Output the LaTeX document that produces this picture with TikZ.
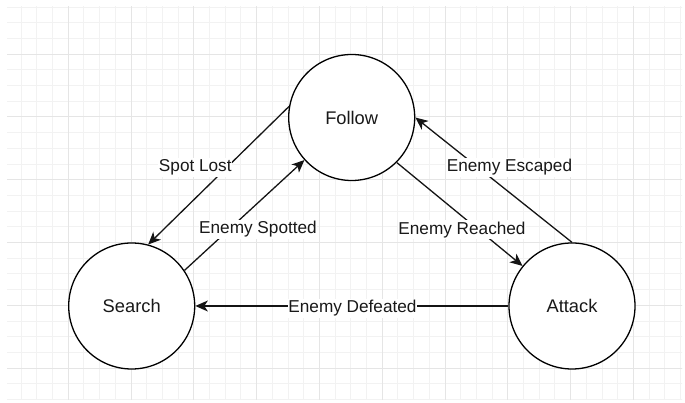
\documentclass[tikz,border=0pt]{standalone}
\usepackage{fontspec}
\setmainfont{Liberation Sans}
\usetikzlibrary{arrows.meta}
\begin{document}
\begin{tikzpicture}[x=1pt,y=1pt,
  state/.style={circle,draw=black,line width=1.3pt,fill=white,minimum size=126pt,
    inner sep=0pt,text=black!90,font=\fontsize{18.3}{22}\selectfont},
  trans/.style={line width=1.3pt,draw=black!92,
    -{Stealth[length=12.5pt,width=11pt,inset=3.5pt]}},
  tlabel/.style={fill=white,inner xsep=0.5pt,inner ysep=1.6pt,anchor=base,
    text=black!90,font=\fontsize{17.2}{20}\selectfont},
  minorgrid/.style={draw=black!5,line width=0.6pt},
  majorgrid/.style={draw=black!10,line width=0.6pt}]
\useasboundingbox (0,0) rectangle (685,403);

% background grid
\begin{scope}
  \clip (7,3) rectangle (682,396);
  \foreach \k in {-4,...,39} { \draw[minorgrid] ({68+15.7*\k},0) -- ++(0,403); }
  \foreach \k in {-3,...,22} { \draw[minorgrid] (0,{349-15.7*\k}) -- ++(685,0); }
  \foreach \m in {-1,...,9} { \draw[majorgrid] ({68+62.8*\m},0) -- ++(0,403); }
  \foreach \m in {0,...,5} { \draw[majorgrid] (0,{349-62.8*\m}) -- ++(685,0); }
\end{scope}

% states
\node[state] (follow) at (351.7,285.5) {Follow};
\node[state] (search) at (131.7,97) {Search};
\node[state] (attack) at (572,97) {Attack};

% transitions
\draw[trans] (follow.170.8) -- (search.75.5);
\draw[trans] (search.34.3) -- (follow.222.3);
\draw[trans] (follow.315) -- (attack.141.1);
\draw[trans] (attack.90) -- (follow.0);
\draw[trans] (attack.180) -- (search.0);

% transition labels
\node[tlabel] (lspotlost) at (195.3,231) {Spot Lost};
\node[tlabel] (lspotted) at (258,169) {Enemy Spotted};
\node[tlabel] (lreached) at (462,168.7) {Enemy Reached};
\node[tlabel] (lescaped) at (509.5,231.3) {Enemy Escaped};
\node[tlabel] (ldefeated) at (352.5,90.3) {Enemy Defeated};
\end{tikzpicture}
\end{document}
